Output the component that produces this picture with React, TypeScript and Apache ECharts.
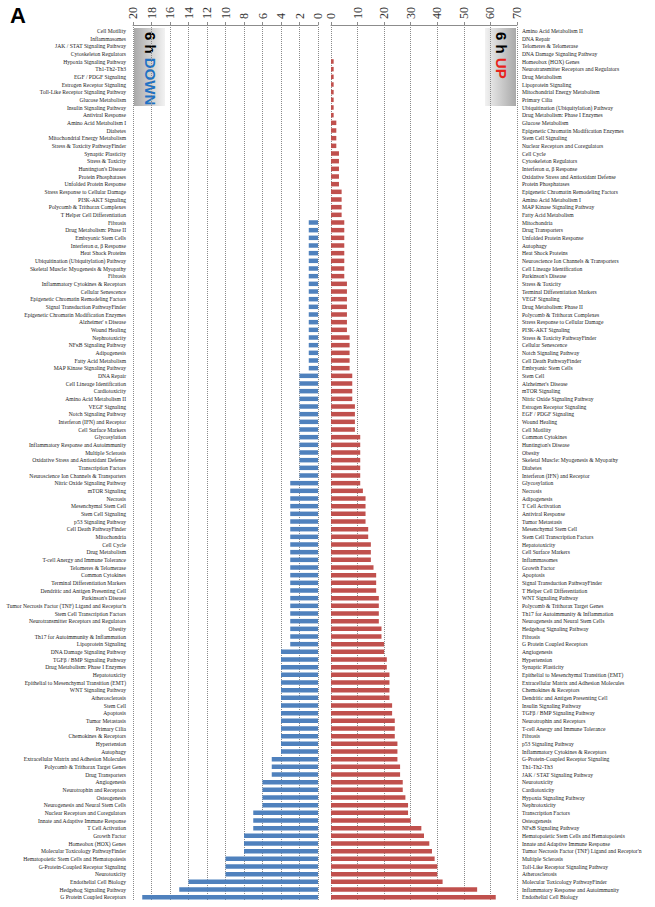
import React, { useEffect, useRef } from 'react';
import * as echarts from 'echarts';

const downCategories = [
  'Cell Motility', 'Inflammasomes', 'JAK / STAT Signaling Pathway', 'Cytoskeleton Regulators', 'Hypoxia Signaling Pathway',
  'Th1-Th2-Th3', 'EGF / PDGF Signaling', 'Estrogen Receptor Signaling', 'Toll-Like Receptor Signaling Pathway', 'Glucose Metabolism',
  'Insulin Signaling Pathway', 'Antiviral Response', 'Amino Acid Metabolism I', 'Diabetes', 'Mitochondrial Energy Metabolism',
  'Stress & Toxicity PathwayFinder', 'Synaptic Plasticity', 'Stress & Toxicity', "Huntington's Disease", 'Protein Phosphatases',
  'Unfolded Protein Response', 'Stress Response to Cellular Damage', 'PI3K-AKT Signaling', 'Polycomb & Trithorax Complexes', 'T Helper Cell Differentiation',
  'Fibrosis', 'Drug Metabolism: Phase II', 'Embryonic Stem Cells', 'Interferon α, β Response', 'Heat Shock Proteins',
  'Ubiquitination (Ubiquitylation) Pathway', 'Skeletal Muscle: Myogenesis & Myopathy', 'Fibrosis', 'Inflammatory Cytokines & Receptors', 'Cellular Senescence',
  'Epigenetic Chromatin Remodeling Factors', 'Signal Transduction PathwayFinder', 'Epigenetic Chromatin Modification Enzymes', "Alzheimer' s Disease", 'Wound Healing',
  'Nephrotoxicity', 'NFκB Signaling Pathway', 'Adipogenesis', 'Fatty Acid Metabolism', 'MAP Kinase Signaling Pathway',
  'DNA Repair', 'Cell Lineage Identification', 'Cardiotoxicity', 'Amino Acid Metabolism II', 'VEGF Signaling',
  'Notch Signaling Pathway', 'Interferon (IFN) and Receptor', 'Cell Surface Markers', 'Glycosylation', 'Inflammatory Response and Autoimmunity',
  'Multiple Sclerosis', 'Oxidative Stress and Antioxidant Defense', 'Transcription Factors', 'Neuroscience Ion Channels & Transporters', 'Nitric Oxide Signaling Pathway',
  'mTOR Signaling', 'Necrosis', 'Mesenchymal Stem Cell', 'Stem Cell Signaling', 'p53 Signaling Pathway',
  'Cell Death PathwayFinder', 'Mitochondria', 'Cell Cycle', 'Drug Metabolism', 'T-cell Anergy and Immune Tolerance',
  'Telomeres & Telomerase', 'Common Cytokines', 'Terminal Differentiation Markers', 'Dendritic and Antigen Presenting Cell', "Parkinson's Disease",
  "Tumor Necrosis Factor (TNF) Ligand and Receptor'n", 'Stem Cell Transcription Factors', 'Neurotransmitter Receptors and Regulators', 'Obesity', 'Th17 for Autoimmunity & Inflammation',
  'Lipoprotein Signaling', 'DNA Damage Signaling Pathway', 'TGFβ / BMP Signaling Pathway', 'Drug Metabolism: Phase I Enzymes', 'Hepatotoxicity',
  'Epithelial to Mesenchymal Transition (EMT)', 'WNT Signaling Pathway', 'Atherosclerosis', 'Stem Cell', 'Apoptosis',
  'Tumor Metastasis', 'Primary Cilia', 'Chemokines & Receptors', 'Hypertension', 'Autophagy',
  'Extracellular Matrix and Adhesion Molecules', 'Polycomb & Trithorax Target Genes', 'Drug Transporters', 'Angiogenesis', 'Neurotrophin and Receptors',
  'Osteogenesis', 'Neurogenesis and Neural Stem Cells', 'Nuclear Receptors and Coregulators', 'Innate and Adaptive Immune Response', 'T Cell Activation',
  'Growth Factor', 'Homeobox (HOX) Genes', 'Molecular Toxicology PathwayFinder', 'Hematopoietic Stem Cells and Hematopoiesis', 'G-Protein-Coupled Receptor Signaling',
  'Neurotoxicity', 'Endothelial Cell Biology', 'Hedgehog Signaling Pathway', 'G Protein Coupled Receptors',
];

const downValues = [
  0, 0, 0, 0, 0, 0, 0, 0, 0, 0,
  0, 0, 0, 0, 0, 0, 0, 0, 0, 0,
  0, 0, 0, 0, 0, 1, 1, 1, 1, 1,
  1, 1, 1, 1, 1, 1, 1, 1, 1, 1,
  1, 1, 1, 1, 1, 2, 2, 2, 2, 2,
  2, 2, 2, 2, 2, 2, 2, 2, 2, 3,
  3, 3, 3, 3, 3, 3, 3, 3, 3, 3,
  3, 3, 3, 3, 3, 3, 3, 3, 3, 3,
  3, 4, 4, 4, 4, 4, 4, 4, 4, 4,
  4, 4, 4, 4, 4, 5, 5, 5, 6, 6,
  6, 6, 7, 7, 7, 8, 8, 8, 10, 10,
  10, 14, 15, 19,
];

const upCategories = [
  'Amino Acid Metabolism II', 'DNA Repair', 'Telomeres & Telomerase', 'DNA Damage Signaling Pathway', 'Homeobox (HOX) Genes',
  'Neurotransmitter Receptors and Regulators', 'Drug Metabolism', 'Lipoprotein Signaling', 'Mitochondrial Energy Metabolism', 'Primary Cilia',
  'Ubiquitination (Ubiquitylation) Pathway', 'Drug Metabolism: Phase I Enzymes', 'Glucose Metabolism', 'Epigenetic Chromatin Modification Enzymes', 'Stem Cell Signaling',
  'Nuclear Receptors and Coregulators', 'Cell Cycle', 'Cytoskeleton Regulators', 'Interferon α, β Response', 'Oxidative Stress and Antioxidant Defense',
  'Protein Phosphatases', 'Epigenetic Chromatin Remodeling Factors', 'Amino Acid Metabolism I', 'MAP Kinase Signaling Pathway', 'Fatty Acid Metabolism',
  'Mitochondria', 'Drug Transporters', 'Unfolded Protein Response', 'Autophagy', 'Heat Shock Proteins',
  'Neuroscience Ion Channels & Transporters', 'Cell Lineage Identification', "Parkinson's Disease", 'Stress & Toxicity', 'Terminal Differentiation Markers',
  'VEGF Signaling', 'Drug Metabolism: Phase II', 'Polycomb & Trithorax Complexes', 'Stress Response to Cellular Damage', 'PI3K-AKT Signaling',
  'Stress & Toxicity PathwayFinder', 'Cellular Senescence', 'Notch Signaling Pathway', 'Cell Death PathwayFinder', 'Embryonic Stem Cells',
  'Stem Cell', "Alzheimer's Disease", 'mTOR Signaling', 'Nitric Oxide Signaling Pathway', 'Estrogen Receptor Signaling',
  'EGF / PDGF Signaling', 'Wound Healing', 'Cell Motility', 'Common Cytokines', "Huntington's Disease",
  'Obesity', 'Skeletal Muscle: Myogenesis & Myopathy', 'Diabetes', 'Interferon (IFN) and Receptor', 'Glycosylation',
  'Necrosis', 'Adipogenesis', 'T Cell Activation', 'Antiviral Response', 'Tumor Metastasis',
  'Mesenchymal Stem Cell', 'Stem Cell Transcription Factors', 'Hepatotoxicity', 'Cell Surface Markers', 'Inflammasomes',
  'Growth Factor', 'Apoptosis', 'Signal Transduction PathwayFinder', 'T Helper Cell Differentiation', 'WNT Signaling Pathway',
  'Polycomb & Trithorax Target Genes', 'Th17 for Autoimmunity & Inflammation', 'Neurogenesis and Neural Stem Cells', 'Hedgehog Signaling Pathway', 'Fibrosis',
  'G Protein Coupled Receptors', 'Angiogenesis', 'Hypertension', 'Synaptic Plasticity', 'Epithelial to Mesenchymal Transition (EMT)',
  'Extracellular Matrix and Adhesion Molecules', 'Chemokines & Receptors', 'Dendritic and Antigen Presenting Cell', 'Insulin Signaling Pathway', 'TGFβ / BMP Signaling Pathway',
  'Neurotrophin and Receptors', 'T-cell Anergy and Immune Tolerance', 'Fibrosis', 'p53 Signaling Pathway', 'Inflammatory Cytokines & Receptors',
  'G-Protein-Coupled Receptor Signaling', 'Th1-Th2-Th3', 'JAK / STAT Signaling Pathway', 'Neurotoxicity', 'Cardiotoxicity',
  'Hypoxia Signaling Pathway', 'Nephrotoxicity', 'Transcription Factors', 'Osteogenesis', 'NFκB Signaling Pathway',
  'Hematopoietic Stem Cells and Hematopoiesis', 'Innate and Adaptive Immune Response', "Tumor Necrosis Factor (TNF) Ligand and Receptor'n", 'Multiple Sclerosis', 'Toll-Like Receptor Signaling Pathway',
  'Atherosclerosis', 'Molecular Toxicology PathwayFinder', 'Inflammatory Response and Autoimmunity', 'Endothelial Cell Biology',
];

const upValues = [
  0, 0, 0, 0, 1, 1, 1, 1, 1, 1,
  1, 1, 2, 2, 2, 2, 3, 3, 3, 3,
  3, 4, 4, 4, 4, 5, 5, 5, 5, 5,
  5, 5, 5, 6, 6, 6, 6, 6, 6, 6,
  7, 7, 7, 7, 7, 8, 8, 8, 8, 9,
  9, 9, 9, 11, 11, 11, 11, 11, 11, 11,
  12, 13, 13, 13, 13, 14, 14, 15, 15, 15,
  16, 17, 17, 17, 18, 18, 18, 18, 19, 19,
  20, 20, 21, 21, 22, 22, 22, 22, 23, 23,
  24, 24, 24, 25, 25, 25, 26, 26, 27, 27,
  28, 29, 29, 30, 34, 35, 37, 38, 39, 40,
  40, 42, 55, 62,
];

const downAxis = { min: 0, max: 20, interval: 2 };
const upAxis = { min: 0, max: 70, interval: 10 };

const SERIF = '"Liberation Serif", "Times New Roman", serif';
const SANS = '"Liberation Sans", Arial, sans-serif';

export default function App() {
  const ref = useRef<HTMLDivElement>(null);

  useEffect(() => {
    if (!ref.current) return;
    const chart = echarts.init(ref.current, undefined, { renderer: 'svg' });

    const gridTop = 27;
    const gridBottom = 6;

    const valueAxisCommon = (gridIndex: number, cfg: any, inverse: boolean) => ({
      type: 'value',
      gridIndex,
      position: 'top',
      inverse,
      min: cfg.min,
      max: cfg.max,
      interval: cfg.interval,
      offset: 2,
      axisLine: { show: true, lineStyle: { color: '#8c8c8c', width: 1 } },
      axisTick: { show: true, length: 3, lineStyle: { color: '#8c8c8c' } },
      axisLabel: {
        rotate: -90,
        fontSize: 12,
        fontFamily: SERIF,
        color: '#333',
        margin: 6,
      },
      splitLine: { show: true, lineStyle: { type: 'dotted', color: '#8a8a8a', width: 1 } },
    });

    const catAxis = (gridIndex: number, data: string[], position: string) => ({
      type: 'category',
      gridIndex,
      inverse: true,
      position,
      data,
      axisLine: { show: false },
      axisTick: { show: false },
      axisLabel: {
        interval: 0,
        fontSize: 5.6,
        fontFamily: SERIF,
        color: '#222',
        margin: position === 'left' ? 7 : 5,
      },
    });

    const option: any = {
      animation: false,
      backgroundColor: '#ffffff',
      grid: [
        { left: 133, width: 185, top: gridTop, bottom: gridBottom, containLabel: false },
        { left: 331, width: 186, top: gridTop, bottom: gridBottom, containLabel: false },
      ],
      xAxis: [valueAxisCommon(0, downAxis, true), valueAxisCommon(1, upAxis, false)],
      yAxis: [catAxis(0, downCategories, 'left'), catAxis(1, upCategories, 'right')],
      series: [
        {
          type: 'bar',
          name: '6 h DOWN',
          xAxisIndex: 0,
          yAxisIndex: 0,
          data: downValues,
          barWidth: 4.5,
          itemStyle: { color: '#4f81bd' },
        },
        {
          type: 'bar',
          name: '6 h UP',
          xAxisIndex: 1,
          yAxisIndex: 1,
          data: upValues,
          barWidth: 4.5,
          itemStyle: { color: '#c0504d' },
        },
      ],
      graphic: [
        {
          type: 'text',
          left: 10,
          top: 4,
          style: { text: 'A', font: `bold 22px ${SANS}`, fill: '#000' },
        },
        {
          type: 'rect',
          shape: { x: 134, y: 28, width: 31, height: 78 },
          style: {
            fill: new echarts.graphic.LinearGradient(0, 0, 1, 0, [
              { offset: 0, color: '#a9a9a9' },
              { offset: 1, color: '#f2f2f2' },
            ]),
          },
        },
        {
          type: 'text',
          x: 150,
          y: 32,
          rotation: -Math.PI / 2,
          style: {
            text: '{a|6 h }{b|DOWN}',
            textAlign: 'left',
            textVerticalAlign: 'middle',
            rich: {
              a: { fill: '#000', fontSize: 15, fontWeight: 'bold', fontFamily: SANS },
              b: { fill: '#1f72c4', fontSize: 15, fontWeight: 'bold', fontFamily: SANS },
            },
          },
        },
        {
          type: 'rect',
          shape: { x: 485, y: 28, width: 31, height: 78 },
          style: {
            fill: new echarts.graphic.LinearGradient(0, 0, 1, 0, [
              { offset: 0, color: '#f2f2f2' },
              { offset: 1, color: '#a9a9a9' },
            ]),
          },
        },
        {
          type: 'text',
          x: 501,
          y: 32,
          rotation: -Math.PI / 2,
          style: {
            text: '{a|6 h }{b|UP}',
            textAlign: 'left',
            textVerticalAlign: 'middle',
            rich: {
              a: { fill: '#000', fontSize: 15, fontWeight: 'bold', fontFamily: SANS },
              b: { fill: '#e8231c', fontSize: 15, fontWeight: 'bold', fontFamily: SANS },
            },
          },
        },
      ],
    };

    chart.setOption(option);
    return () => chart.dispose();
  }, []);

  return (
    <div
      ref={ref}
      style={{ position: 'fixed', left: 0, top: 0, width: 655, height: 907, background: '#fff' }}
    />
  );
}
